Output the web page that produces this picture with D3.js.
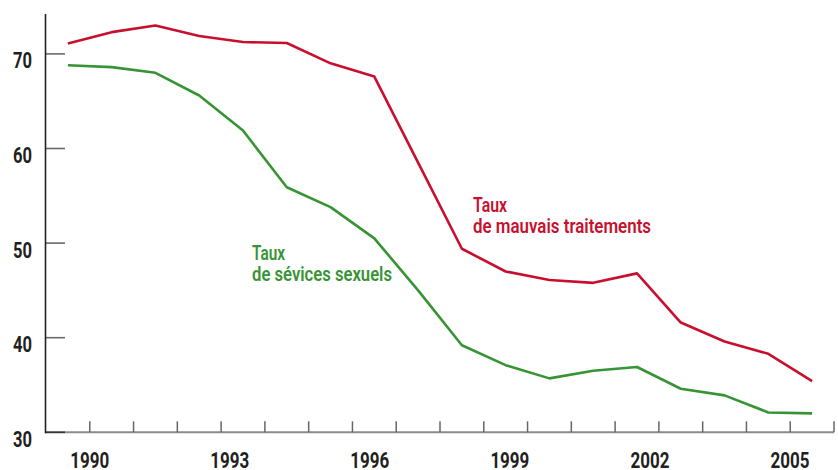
<!DOCTYPE html>
<html>
<head>
<meta charset="utf-8">
<script src="https://cdn.jsdelivr.net/npm/d3@7"></script>
<style>
  html, body { margin: 0; padding: 0; background: #fff; }
  svg { display: block; }
  text { font-family: Roboto, "Liberation Sans", sans-serif; }
</style>
</head>
<body>
<svg id="chart" width="838" height="470"></svg>
<script>
// ---- data ----
const periods = [1, 2, 3, 4, 5, 6, 7, 8, 9, 10, 11, 12, 13, 14, 15, 16, 17, 18];
const mauvaisTraitements = [71.1, 72.3, 73.0, 71.9, 71.25, 71.15, 69.0, 67.6, 58.5, 49.4, 47.0, 46.1, 45.8, 46.8, 41.6, 39.6, 38.3, 35.4];
const sevicesSexuels = [68.8, 68.6, 68.0, 65.6, 61.9, 55.9, 53.8, 50.5, 45.0, 39.2, 37.1, 35.7, 36.5, 36.9, 34.6, 33.9, 32.1, 32.0];
const yTicks = [30, 40, 50, 60, 70];
const yearLabels = [1990, 1993, 1996, 1999, 2002, 2005];
const seriesLabels = {
  red: ["Taux", "de mauvais traitements"],
  green: ["Taux", "de sévices sexuels"]
};

// ---- chart ----
const svg = d3.select("#chart");
const red = "#c8102e", green = "#379434";

const x = d3.scaleBand().domain(periods).range([46, 834]);
const xYear = d3.scaleLinear().domain([1990, 2005]).range([89.7, 790]);
const y = d3.scaleLinear().domain([30, 70]).range([432.3, 53.9]);

// x axis line
svg.append("line")
  .attr("x1", 45).attr("x2", 834)
  .attr("y1", y(30)).attr("y2", y(30))
  .attr("stroke", "#8c8c8c").attr("stroke-width", 2);

// x ticks at band boundaries
svg.append("g").selectAll("line")
  .data(periods)
  .join("line")
  .attr("x1", d => x(d) + x.bandwidth())
  .attr("x2", d => x(d) + x.bandwidth())
  .attr("y1", y(30)).attr("y2", y(30) - 11)
  .attr("stroke", "#666").attr("stroke-width", 1.5);

// y ticks
svg.append("g").selectAll("line")
  .data(yTicks)
  .join("line")
  .attr("x1", 45).attr("x2", 65)
  .attr("y1", d => y(d)).attr("y2", d => y(d))
  .attr("stroke", (d, i) => i === 0 ? "#333" : "#6a6a6a").attr("stroke-width", 1.6);

// y axis line
svg.append("line")
  .attr("x1", 45.5).attr("x2", 45.5)
  .attr("y1", 14).attr("y2", y(30) + 1)
  .attr("stroke", "#222").attr("stroke-width", 1.6);

// y labels
svg.append("g").selectAll("text")
  .data(yTicks)
  .join("text")
  .attr("x", 32).attr("y", d => y(d) + 14.5)
  .attr("text-anchor", "end")
  .attr("font-size", 22).attr("font-weight", 700)
  .attr("fill", "#231f20")
  .attr("textLength", 19).attr("lengthAdjust", "spacingAndGlyphs")
  .text(d => d);

// x year labels
svg.append("g").selectAll("text")
  .data(yearLabels)
  .join("text")
  .attr("x", d => xYear(d)).attr("y", 467.5)
  .attr("text-anchor", "middle")
  .attr("font-size", 22).attr("font-weight", 700)
  .attr("fill", "#231f20")
  .attr("textLength", 39).attr("lengthAdjust", "spacingAndGlyphs")
  .text(d => d);

// lines
const line = values => d3.line()
  .x((d, i) => x(periods[i]) + x.bandwidth() / 2)
  .y(d => y(d))(values);

svg.append("path").attr("d", line(sevicesSexuels))
  .attr("fill", "none").attr("stroke", green).attr("stroke-width", 2.6)
  .attr("stroke-linejoin", "round");
svg.append("path").attr("d", line(mauvaisTraitements))
  .attr("fill", "none").attr("stroke", red).attr("stroke-width", 2.6)
  .attr("stroke-linejoin", "round");

// series labels (one text element, two lines)
function addLabel(lines, x0, y0, color, widths) {
  const t = svg.append("text")
    .attr("x", x0).attr("y", y0)
    .attr("font-size", 21).attr("font-weight", 600)
    .attr("fill", color);
  lines.forEach((s, i) => {
    t.append("tspan")
      .attr("x", x0).attr("dy", i === 0 ? 0 : 21)
      .attr("textLength", widths[i]).attr("lengthAdjust", "spacingAndGlyphs")
      .text(s);
  });
}
addLabel(seriesLabels.red, 473, 212, red, [34, 178]);
addLabel(seriesLabels.green, 252, 260, green, [33, 140]);
</script>
</body>
</html>
